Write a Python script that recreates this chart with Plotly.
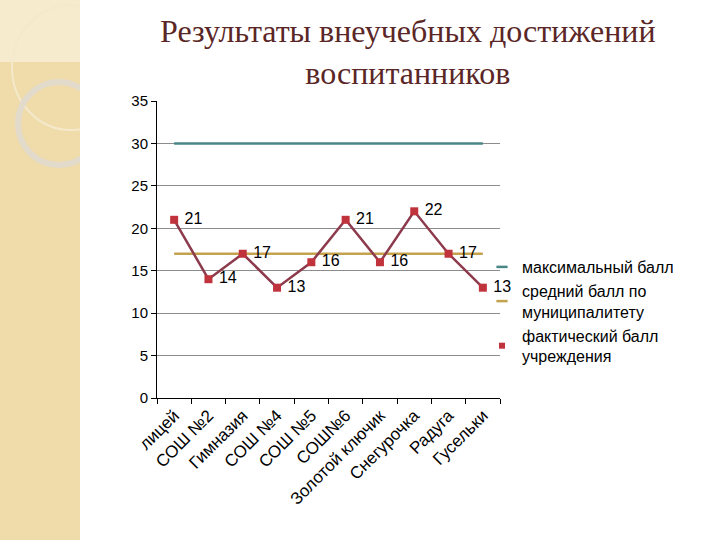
import plotly.graph_objects as go

categories = ["лицей", "СОШ №2", "Гимназия", "СОШ №4", "СОШ №5", "СОШ№6",
              "Золотой ключик", "Снегурочка", "Радуга", "Гусельки"]
max_score = [30, 30, 30, 30, 30, 30, 30, 30, 30, 30]
avg_score = [17, 17, 17, 17, 17, 17, 17, 17, 17, 17]
actual_score = [21, 14, 17, 13, 16, 21, 16, 22, 17, 13]
y_ticks = [0, 5, 10, 15, 20, 25, 30, 35]
series_names = ["максимальный балл", "средний балл по<br>муниципалитету",
                "фактический балл<br>учреждения"]
colors = ["#4a8686", "#c4a24e", "#8c3a4c"]
marker_color = "#c0323c"

L, R, T, B = 157, 500, 101, 398
W, H = R - L, B - T

def px_x(px):
    return (px - L) / W

def px_y(py):
    return (B - py) / H

fig = go.Figure()
fig.add_trace(go.Scatter(x=categories, y=max_score, mode="lines", showlegend=False,
                         name=series_names[0], line=dict(color=colors[0], width=2.5)))
fig.add_trace(go.Scatter(x=categories, y=avg_score, mode="lines", showlegend=False,
                         name=series_names[1], line=dict(color=colors[1], width=2.5)))
fig.add_trace(go.Scatter(x=categories, y=actual_score, mode="lines+markers+text", showlegend=False,
                         name=series_names[2], cliponaxis=False,
                         line=dict(color=colors[2], width=2.5),
                         marker=dict(symbol="square", size=8, color=marker_color),
                         text=[str(v) for v in actual_score],
                         texttemplate=" %{text}",
                         textposition="middle right",
                         textfont=dict(family="Arial, Liberation Sans", size=16, color="black")))

# legend-only entries with short symbols like the original
fig.add_trace(go.Scatter(x=[None], y=[None], mode="markers", name=series_names[0],
                         marker=dict(symbol="line-ew", size=8, line=dict(color=colors[0], width=2.5))))
fig.add_trace(go.Scatter(x=[None], y=[None], mode="markers", name=series_names[1],
                         marker=dict(symbol="line-ew", size=8, line=dict(color=colors[1], width=2.5))))
fig.add_trace(go.Scatter(x=[None], y=[None], mode="markers", name=series_names[2],
                         marker=dict(symbol="square", size=6, color=marker_color)))

# decorative background
fig.add_shape(type="rect", xref="paper", yref="paper",
              x0=px_x(0), x1=px_x(80), y0=px_y(540), y1=px_y(0),
              fillcolor="#efdcaa", line=dict(width=0), layer="below")
fig.add_shape(type="rect", xref="paper", yref="paper",
              x0=px_x(0), x1=px_x(80), y0=px_y(62), y1=px_y(0),
              fillcolor="#f6ebcd", line=dict(width=0), layer="below")
fig.add_shape(type="circle", xref="paper", yref="paper",
              x0=px_x(12), x1=px_x(130), y0=px_y(130), y1=px_y(5),
              line=dict(color="#f5e9cc", width=2), layer="below")
fig.add_shape(type="circle", xref="paper", yref="paper",
              x0=px_x(18), x1=px_x(100), y0=px_y(165), y1=px_y(82),
              line=dict(color="#e2dacb", width=6), layer="below")
fig.add_shape(type="rect", xref="paper", yref="paper",
              x0=px_x(80), x1=px_x(720), y0=px_y(540), y1=px_y(0),
              fillcolor="white", line=dict(width=0), layer="below")

fig.add_annotation(text="Результаты внеучебных достижений<br>воспитанников",
                   xref="paper", yref="paper", x=px_x(408), y=px_y(11),
                   xanchor="center", yanchor="top", showarrow=False,
                   font=dict(family="Liberation Serif, Times New Roman, serif", size=32, color="#5a2626"))

fig.update_layout(
    width=720, height=540,
    margin=dict(l=L, r=720 - R, t=T, b=540 - B),
    paper_bgcolor="white", plot_bgcolor="white",
    showlegend=True,
    legend=dict(x=px_x(482), y=px_y(250), xanchor="left", yanchor="top",
                font=dict(family="Arial, Liberation Sans", size=16, color="black"),
                bgcolor="rgba(0,0,0,0)", tracegroupgap=0, itemwidth=30),
    font=dict(family="Arial, Liberation Sans", color="black"),
)
fig.update_xaxes(type="category", showline=True, linecolor="black", linewidth=1,
                 ticks="outside", tickson="boundaries", ticklen=5, tickcolor="black",
                 tickangle=-45, tickfont=dict(size=17), showgrid=False,
                 range=[-0.5, 9.5])
fig.update_yaxes(range=[0, 35], tickvals=y_ticks, showline=True, linecolor="black", linewidth=1,
                 ticks="outside", ticklen=5, tickcolor="black", tickfont=dict(size=15),
                 showgrid=True, gridcolor="#8c8c8c", gridwidth=1, zeroline=False)

fig.write_html("out.html", config={"displayModeBar": False},
               post_script="document.body.style.margin='0';")
